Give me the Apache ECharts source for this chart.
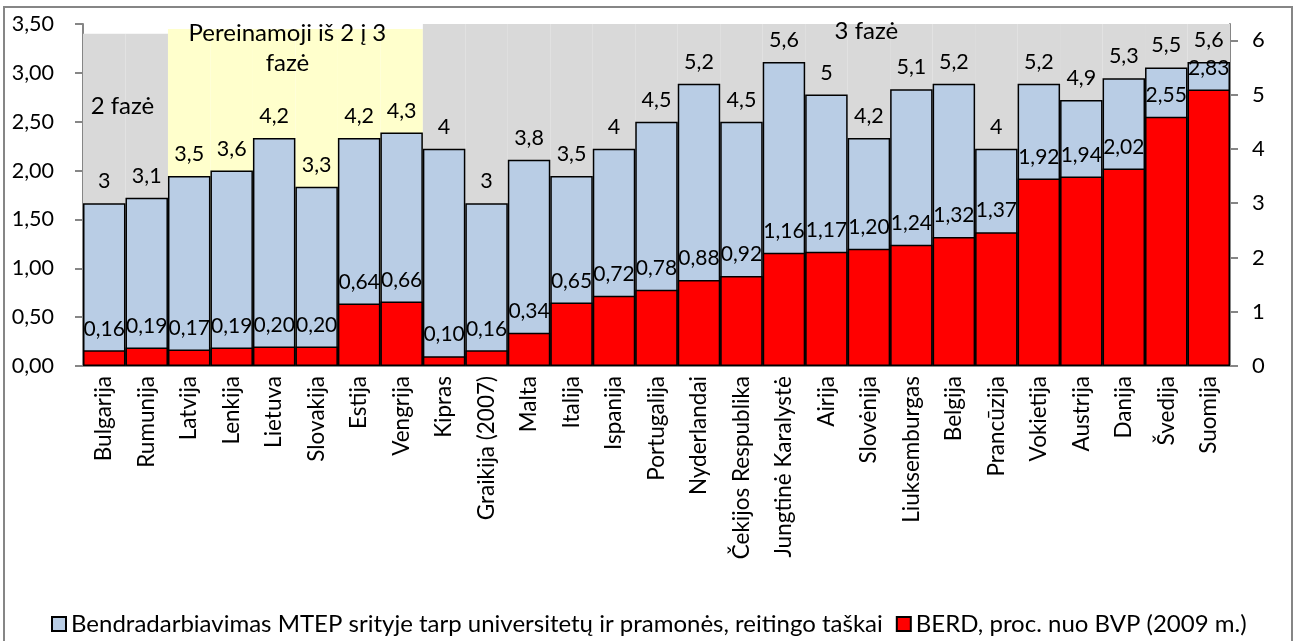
<!DOCTYPE html>
<html>
<head>
<meta charset="utf-8">
<script src="https://cdn.jsdelivr.net/npm/echarts@6/dist/echarts.min.js"></script>
<style>
  html, body { margin: 0; padding: 0; background: #fff; }
  #chart { width: 1298px; height: 641px; }
</style>
</head>
<body>
<div id="chart"></div>
<script>
// Countries, ordered by BERD share
const categories = [
  'Bulgarija', 'Rumunija', 'Latvija', 'Lenkija', 'Lietuva', 'Slovakija', 'Estija', 'Vengrija',
  'Kipras', 'Graikija (2007)', 'Malta', 'Italija', 'Ispanija', 'Portugalija', 'Nyderlandai',
  'Čekijos Respublika', 'Jungtinė Karalystė', 'Airija', 'Slovėnija', 'Liuksemburgas', 'Belgija',
  'Prancūzija', 'Vokietija', 'Austrija', 'Danija', 'Švedija', 'Suomija'
];

// University–industry R&D collaboration, rating points (right axis)
const ratingValues = [
  3, 3.1, 3.5, 3.6, 4.2, 3.3, 4.2, 4.3, 4, 3, 3.8, 3.5, 4, 4.5, 5.2,
  4.5, 5.6, 5, 4.2, 5.1, 5.2, 4, 5.2, 4.9, 5.3, 5.5, 5.6
];

// BERD, % of GDP in 2009 (left axis)
const berdValues = [
  0.16, 0.19, 0.17, 0.19, 0.20, 0.20, 0.64, 0.66, 0.10, 0.16, 0.34, 0.65, 0.72, 0.78, 0.88,
  0.92, 1.16, 1.17, 1.20, 1.24, 1.32, 1.37, 1.92, 1.94, 2.02, 2.55, 2.83
];

// Development phases shading the background (left-axis heights)
const phaseLabels = ['2 fazė', 'Pereinamoji iš 2 į 3\nfazė', '3 fazė'];
const phaseCounts = [2, 6, 19];
const phaseHeights = [3.4, 3.45, 3.5];

const leftTicks = [0, 0.5, 1, 1.5, 2, 2.5, 3, 3.5];
const rightTicks = [0, 1, 2, 3, 4, 5, 6];

const seriesNames = [
  'Bendradarbiavimas MTEP srityje tarp universitetų ir pramonės, reitingo taškai',
  'BERD, proc. nuo BVP (2009 m.)'
];

const phaseFill = ['#D9D9D9', '#FFFFCC', '#D9D9D9'];
const FONT = 'Lato';
const AXIS_GREY = '#868686';
const comma = (v, d) => (d == null ? String(v) : v.toFixed(d)).replace('.', ',');

// per-category background bars built from the phase spans
const phaseOf = [];
phaseCounts.forEach((n, p) => { for (let k = 0; k < n; k++) phaseOf.push(p); });
const backgroundData = phaseOf.map(p => ({ value: phaseHeights[p], itemStyle: { color: phaseFill[p] } }));

const chart = echarts.init(document.getElementById('chart'), null, { renderer: 'canvas' });

const option = {
  animation: false,
  textStyle: { fontFamily: FONT },
  grid: { left: 83, right: 68, top: 24, bottom: 275 },
  legend: {
    data: seriesNames,
    left: 46,
    top: 607,
    icon: 'rect',
    itemWidth: 14,
    itemHeight: 14,
    itemGap: 13,
    textStyle: { fontFamily: FONT, fontSize: 24, color: '#000' }
  },
  xAxis: {
    type: 'category',
    data: categories,
    axisLine: { lineStyle: { color: AXIS_GREY, width: 2 } },
    axisTick: { length: 7, lineStyle: { color: AXIS_GREY, width: 2 } },
    axisLabel: { rotate: 90, interval: 0, fontSize: 22.5, color: '#000', margin: 10 }
  },
  yAxis: [
    {
      type: 'value', min: 0, max: 3.5, interval: 0.5,
      axisLine: { show: true, lineStyle: { color: AXIS_GREY, width: 2 } },
      axisTick: { show: true, length: 8, lineStyle: { color: AXIS_GREY, width: 2 }, customValues: leftTicks },
      axisLabel: { fontSize: 21.5, color: '#000', margin: 29, formatter: v => comma(v, 2), customValues: leftTicks },
      splitLine: { show: false }
    },
    {
      type: 'value', position: 'right', min: 0, max: 6.3,
      axisLine: { show: true, lineStyle: { color: AXIS_GREY, width: 2 } },
      axisTick: { show: true, length: 8, lineStyle: { color: AXIS_GREY, width: 2 }, customValues: rightTicks },
      axisLabel: { fontSize: 22, color: '#000', margin: 22, customValues: rightTicks },
      splitLine: { show: false }
    }
  ],
  series: [
    {
      name: 'phase',
      type: 'bar',
      yAxisIndex: 0,
      data: backgroundData,
      barGap: '-100%',
      barCategoryGap: '0%',
      silent: true,
      z: 1
    },
    {
      name: seriesNames[0],
      type: 'bar',
      yAxisIndex: 1,
      data: ratingValues,
      barGap: '-100%',
      barCategoryGap: '0%',
      itemStyle: { color: '#B9CDE5', borderColor: '#000', borderWidth: 1.5 },
      label: {
        show: true, position: 'top', distance: 11,
        fontFamily: FONT, fontSize: 21.5, color: '#000',
        formatter: p => comma(p.value)
      },
      z: 2
    },
    {
      name: seriesNames[1],
      type: 'bar',
      yAxisIndex: 0,
      data: berdValues,
      barGap: '-100%',
      barCategoryGap: '0%',
      itemStyle: { color: '#FF0000', borderColor: '#000', borderWidth: 1.5 },
      label: {
        show: true, position: 'top', distance: 11,
        fontFamily: FONT, fontSize: 21, color: '#000',
        formatter: p => comma(p.value, 2)
      },
      z: 3
    }
  ]
};

chart.setOption(option);

// phase captions placed relative to each shaded span
const captionShift = [[-3, 72], [-8, 19], [40, 7]];
const graphics = [{
  type: 'rect',
  shape: { x: 4, y: 7, width: 1288, height: 660 },
  style: { fill: 'none', stroke: AXIS_GREY, lineWidth: 2 },
  silent: true,
  z: 0
}];
let start = 0;
phaseCounts.forEach((n, p) => {
  const x0 = chart.convertToPixel({ xAxisIndex: 0 }, start);
  const x1 = chart.convertToPixel({ xAxisIndex: 0 }, start + n - 1);
  const yTop = chart.convertToPixel({ yAxisIndex: 0 }, phaseHeights[p]);
  graphics.push({
    type: 'text',
    x: (x0 + x1) / 2 + captionShift[p][0],
    y: yTop + captionShift[p][1],
    style: {
      text: phaseLabels[p],
      fontFamily: FONT, fontSize: 24, fill: '#000',
      align: 'center', verticalAlign: 'middle', lineHeight: 30
    },
    z: 10
  });
  start += n;
});
chart.setOption({ graphic: graphics });
</script>
</body>
</html>
